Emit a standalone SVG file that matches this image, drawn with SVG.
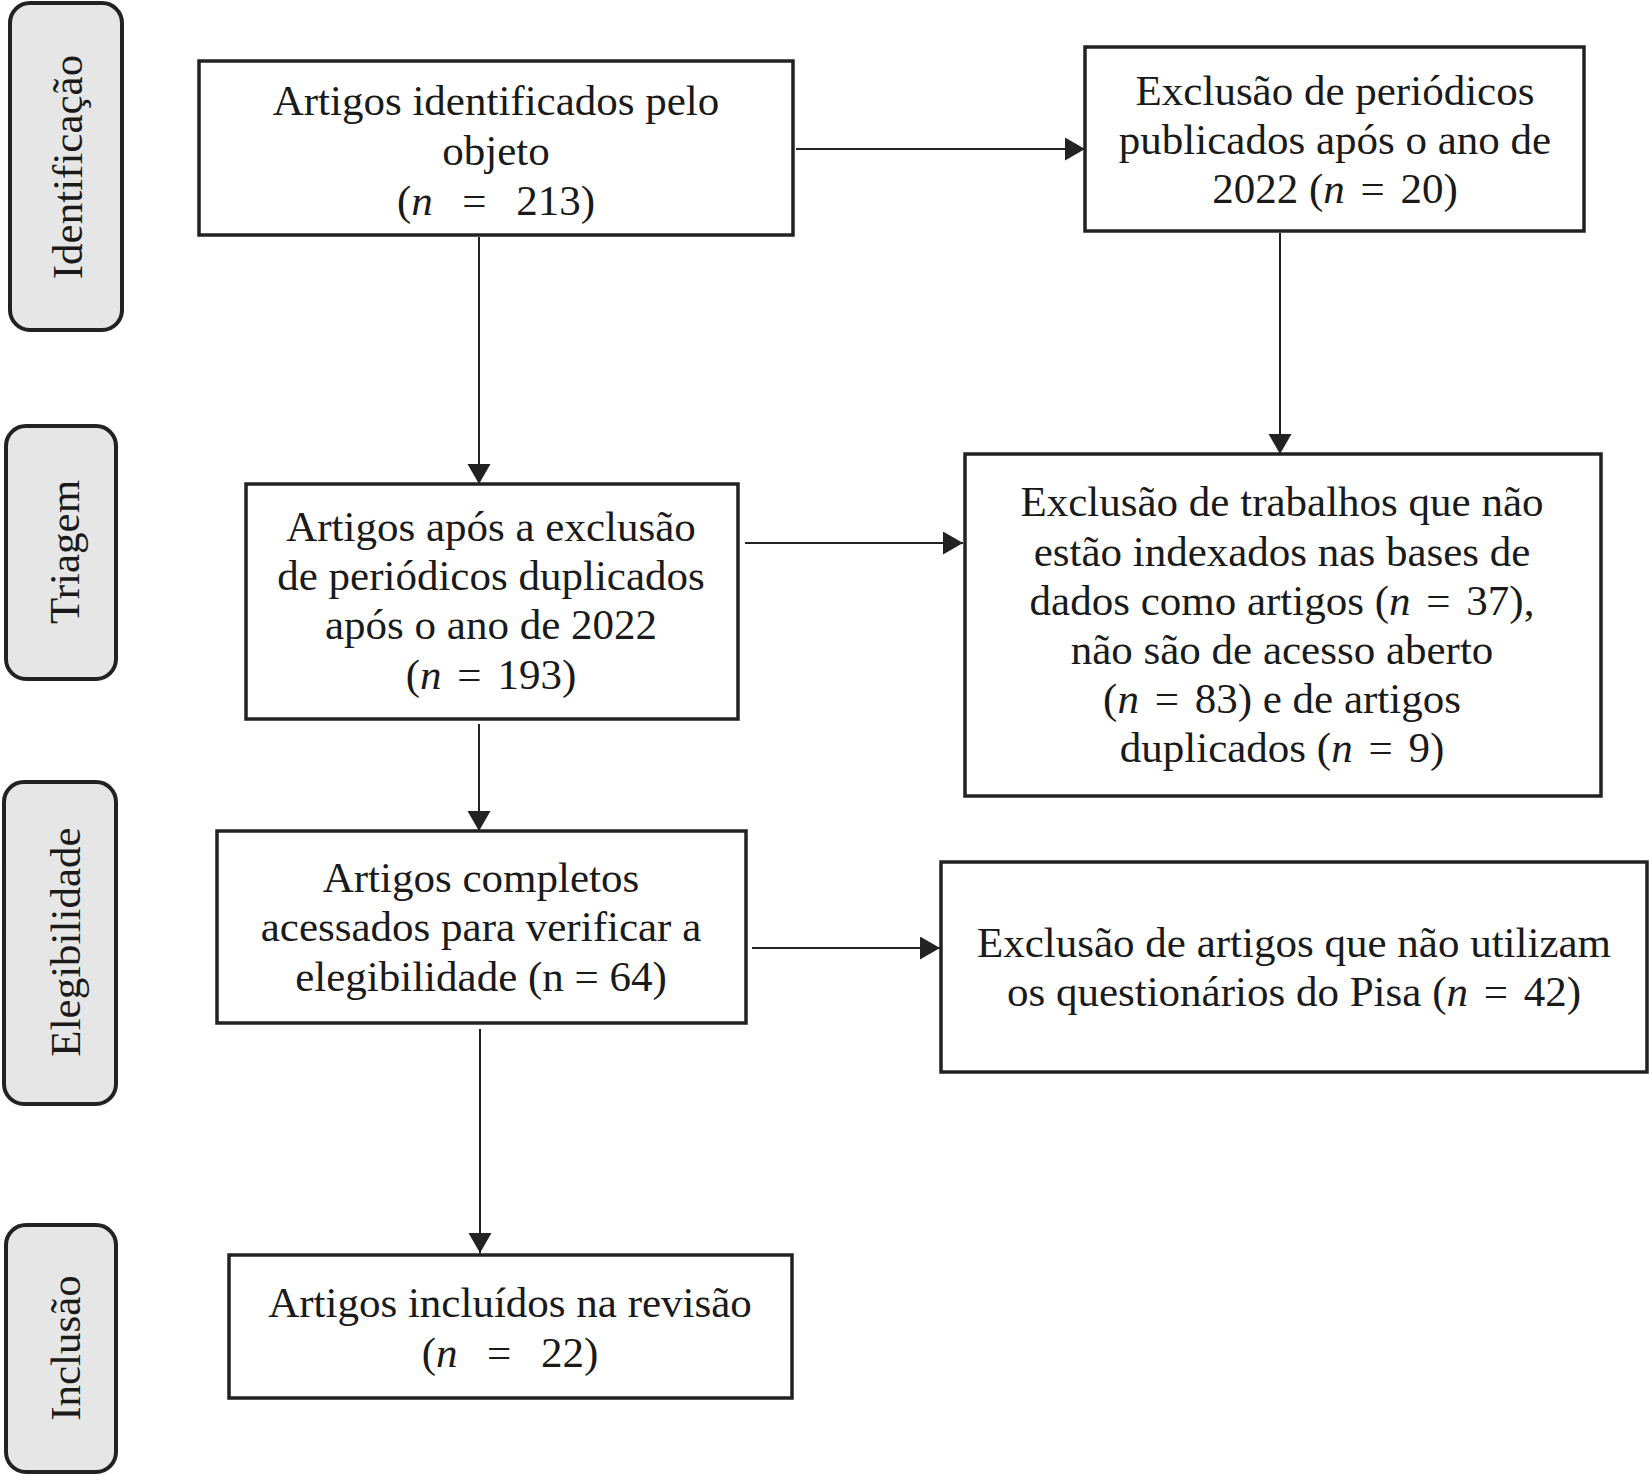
<svg xmlns="http://www.w3.org/2000/svg" width="1649" height="1476" viewBox="0 0 1649 1476">
<style>
.box{fill:#fff;stroke:#222;stroke-width:3.5}
.pill{fill:#e6e6e6;stroke:#222;stroke-width:4}
.t{font-family:"Liberation Serif","Times New Roman",serif;font-size:43px;fill:#1a1a1a;text-anchor:middle}
.m{font-style:italic}
.c{stroke:#222;stroke-width:2;fill:none}
</style>
<defs>
<marker id="ah" markerUnits="userSpaceOnUse" markerWidth="22" markerHeight="24" refX="20" refY="11.5" orient="auto">
<path d="M0,0 L20,11.5 L0,23 z" fill="#222"/>
</marker>
</defs>
<g id="stage-identificacao">
<rect class="pill" x="10" y="3" width="112" height="327" rx="20"/>
<text class="t" transform="translate(82,167) rotate(-90)">Identificação</text>
</g>
<g id="stage-triagem">
<rect class="pill" x="6" y="426" width="110" height="253" rx="20"/>
<text class="t" transform="translate(79,552) rotate(-90)">Triagem</text>
</g>
<g id="stage-elegibilidade">
<rect class="pill" x="4" y="782" width="112" height="322" rx="20"/>
<text class="t" transform="translate(80,942) rotate(-90)">Elegibilidade</text>
</g>
<g id="stage-inclusao">
<rect class="pill" x="6" y="1225" width="110" height="247" rx="20"/>
<text class="t" transform="translate(80,1348) rotate(-90)">Inclusão</text>
</g>
<g id="n-identificados">
<rect class="box" x="199" y="61" width="594" height="174"/>
<text class="t" x="496" y="115">Artigos identificados pelo</text>
<text class="t" x="496" y="165">objeto</text>
<text class="t" x="496" y="215" xml:space="preserve">(<tspan class="m">n</tspan>  <tspan dx="8">=</tspan>  <tspan dx="8">213)</tspan></text>
</g>
<g id="n-excl-periodicos">
<rect class="box" x="1085" y="47" width="499" height="184"/>
<text class="t" x="1335" y="105">Exclusão de periódicos</text>
<text class="t" x="1335" y="154">publicados após o ano de</text>
<text class="t" x="1335" y="203">2022 (<tspan class="m">n</tspan> <tspan dx="5">=</tspan> <tspan dx="5">20)</tspan></text>
</g>
<g id="n-apos-exclusao">
<rect class="box" x="246" y="484" width="492" height="235"/>
<text class="t" x="491" y="541">Artigos após a exclusão</text>
<text class="t" x="491" y="590">de periódicos duplicados</text>
<text class="t" x="491" y="639">após o ano de 2022</text>
<text class="t" x="491" y="689">(<tspan class="m">n</tspan> <tspan dx="5">=</tspan> <tspan dx="5">193)</tspan></text>
</g>
<g id="n-excl-trabalhos">
<rect class="box" x="965" y="454" width="636" height="342"/>
<text class="t" x="1282" y="516">Exclusão de trabalhos que não</text>
<text class="t" x="1282" y="566">estão indexados nas bases de</text>
<text class="t" x="1282" y="615">dados como artigos (<tspan class="m">n</tspan> <tspan dx="5">=</tspan> <tspan dx="5">37),</tspan></text>
<text class="t" x="1282" y="664">não são de acesso aberto</text>
<text class="t" x="1282" y="713">(<tspan class="m">n</tspan> <tspan dx="5">=</tspan> <tspan dx="5">83)</tspan> e de artigos</text>
<text class="t" x="1282" y="762">duplicados (<tspan class="m">n</tspan> <tspan dx="5">=</tspan> <tspan dx="5">9)</tspan></text>
</g>
<g id="n-completos">
<rect class="box" x="217" y="831" width="529" height="192"/>
<text class="t" x="481" y="892">Artigos completos</text>
<text class="t" x="481" y="941">acessados para verificar a</text>
<text class="t" x="481" y="991">elegibilidade (n = 64)</text>
</g>
<g id="n-excl-artigos">
<rect class="box" x="941" y="862" width="706" height="210"/>
<text class="t" x="1294" y="957">Exclusão de artigos que não utilizam</text>
<text class="t" x="1294" y="1006">os questionários do Pisa (<tspan class="m">n</tspan> <tspan dx="5">=</tspan> <tspan dx="5">42)</tspan></text>
</g>
<g id="n-incluidos">
<rect class="box" x="229" y="1255" width="563" height="143"/>
<text class="t" x="510" y="1317">Artigos incluídos na revisão</text>
<text class="t" x="510" y="1367" xml:space="preserve">(<tspan class="m">n</tspan>  <tspan dx="8">=</tspan>  <tspan dx="8">22)</tspan></text>
</g>
<g id="connectors">
<line class="c" x1="796" y1="149" x2="1085" y2="149" marker-end="url(#ah)"/>
<line class="c" x1="1280" y1="233" x2="1280" y2="454" marker-end="url(#ah)"/>
<line class="c" x1="479" y1="237" x2="479" y2="484" marker-end="url(#ah)"/>
<line class="c" x1="745" y1="543" x2="963" y2="543" marker-end="url(#ah)"/>
<line class="c" x1="479" y1="724" x2="479" y2="831" marker-end="url(#ah)"/>
<line class="c" x1="752" y1="948" x2="940" y2="948" marker-end="url(#ah)"/>
<line class="c" x1="480" y1="1029" x2="480" y2="1253" marker-end="url(#ah)"/>
</g>
</svg>
